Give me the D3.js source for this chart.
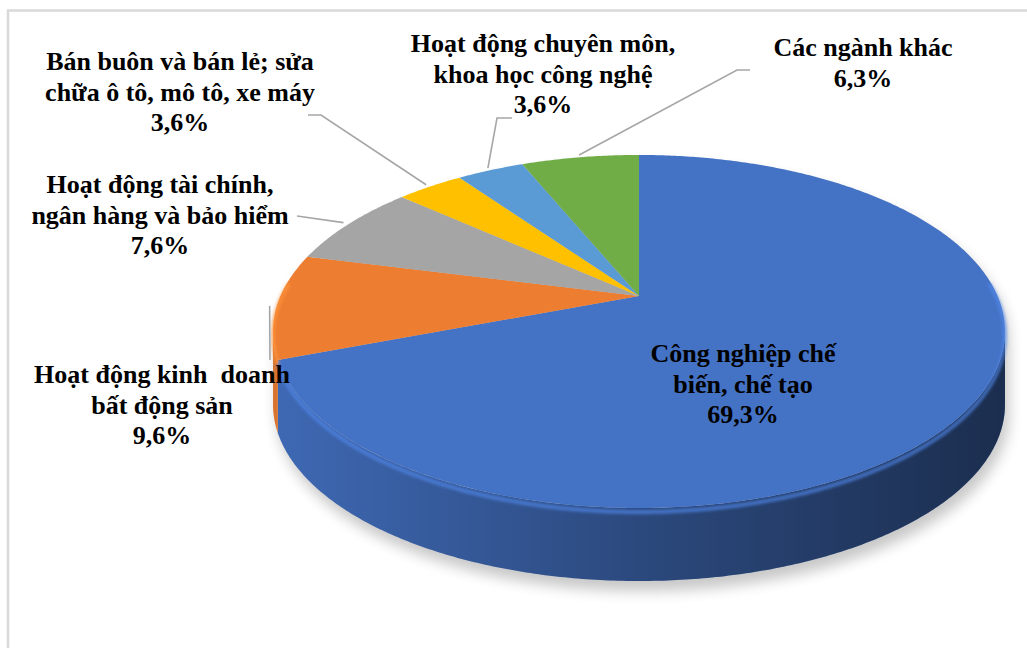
<!DOCTYPE html>
<html>
<head>
<meta charset="utf-8">
<script src="https://d3js.org/d3.v7.min.js"></script>
<style>
  body { margin: 0; background: #fff; }
</style>
</head>
<body>
<script>
// data
const categories = [
  "Công nghiệp chế biến, chế tạo",
  "Hoạt động kinh doanh bất động sản",
  "Hoạt động tài chính, ngân hàng và bảo hiểm",
  "Bán buôn và bán lẻ; sửa chữa ô tô, mô tô, xe máy",
  "Hoạt động chuyên môn, khoa học công nghệ",
  "Các ngành khác"
];
const values = [69.3, 9.6, 7.6, 3.6, 3.6, 6.3];
const labelLines = [
  ["Công nghiệp chế", "biến, chế tạo"],
  ["Hoạt động kinh  doanh", "bất động sản"],
  ["Hoạt động tài chính,", "ngân hàng và bảo hiểm"],
  ["Bán buôn và bán lẻ; sửa", "chữa ô tô, mô tô, xe máy"],
  ["Hoạt động chuyên môn,", "khoa học công nghệ"],
  ["Các ngành khác"]
];
const colors = ["#4472c4", "#ed7d31", "#a5a5a5", "#ffc000", "#5b9bd5", "#70ad47"];

// layout of labels (center x, first baseline) and leader elbows
const labelPos = [[743, 362], [162, 383], [160, 193], [180, 70], [543, 52], [863, 56]];
const leaders = [null, [[270, 360]], [[297, 216]], [[308, 115], [321, 115]], [[512, 118], [497, 118]], [[750, 70], [737, 70]]];

const width = 1027, height = 648;
const cx = 639, cy = 296, A = 358.5, B = 169.4, k = -0.201, depth = 73;

const svg = d3.select("body").append("svg")
  .attr("width", width).attr("height", height);

const defs = svg.append("defs");
const sh = defs.append("filter").attr("id", "shadow").attr("x", "-20%").attr("y", "-20%").attr("width", "140%").attr("height", "140%");
sh.append("feGaussianBlur").attr("stdDeviation", 7);
const bl = defs.append("filter").attr("id", "soft");
bl.append("feGaussianBlur").attr("stdDeviation", 1.6);

const grad = defs.append("linearGradient").attr("id", "sideShade")
  .attr("gradientUnits", "userSpaceOnUse").attr("x1", 272).attr("x2", 1006).attr("y1", 0).attr("y2", 0);
[[0, 0.08], [0.25, 0.22], [0.5, 0.36], [0.75, 0.48], [1, 0.6]].forEach(s =>
  grad.append("stop").attr("offset", s[0]).attr("stop-color", "#000").attr("stop-opacity", s[1]));

// chart frame
svg.append("rect").attr("x", 8).attr("y", 10.5).attr("width", 1100).attr("height", 700)
  .attr("fill", "none").attr("stroke", "#d9d9d9").attr("stroke-width", 2.5);

// perspective projection of a point on the unit disk (angle clockwise from top)
function proj(t, r = 1, dy = 0) {
  const u = r * Math.sin(t), v = -r * Math.cos(t);
  const d = 1 + k * v;
  return [cx + A * u / d, cy + B * v / d + dy];
}
function arcPts(a0, a1, r = 1, dy = 0) {
  const n = Math.max(2, Math.ceil(Math.abs(a1 - a0) / 0.01));
  return d3.range(n + 1).map(i => proj(a0 + (a1 - a0) * i / n, r, dy));
}
const line = d3.line();

const arcs = d3.pie().sort(null).value(d => d)(values);
const tR = Math.acos(k), tL = 2 * Math.PI - tR;

// shadow
const outline = arcPts(tL - 2 * Math.PI, tR).concat(arcPts(tR, tL, 1, depth));
svg.append("path").attr("d", line(outline) + "Z")
  .attr("transform", "translate(4,10)")
  .attr("fill", "#000").attr("opacity", 0.22).attr("filter", "url(#shadow)");

// sides
arcs.forEach((a, i) => {
  const s = Math.max(a.startAngle, tR), e = Math.min(a.endAngle, tL);
  if (e <= s) return;
  const pts = arcPts(s, e).concat(arcPts(e, s, 1, depth));
  svg.append("path").attr("d", line(pts) + "Z").attr("fill", colors[i]);
  svg.append("path").attr("d", line(pts) + "Z").attr("fill", "url(#sideShade)");
});

// top slices
arcs.forEach((a, i) => {
  const pts = [[cx, cy]].concat(arcPts(a.startAngle, a.endAngle));
  svg.append("path").attr("d", line(pts) + "Z").attr("fill", colors[i]);
});

// bevel highlight on front rim
arcs.forEach((a, i) => {
  const s = Math.max(a.startAngle, tR - 0.3), e = Math.min(a.endAngle, tL + 0.3);
  if (e <= s) return;
  const c = d3.color(colors[i]).brighter(0.5);
  svg.append("path").attr("d", line(arcPts(s, e, 1, 4)))
    .attr("fill", "none").attr("stroke", c).attr("stroke-width", 4)
    .attr("opacity", 0.7).attr("filter", "url(#soft)");
});

// leader lines
arcs.forEach((a, i) => {
  if (!leaders[i]) return;
  const mid = (a.startAngle + a.endAngle) / 2;
  const pts = leaders[i].concat([proj(mid, 1.02)]);
  svg.append("path").attr("d", line(pts))
    .attr("fill", "none").attr("stroke", "#a6a6a6").attr("stroke-width", 1.6);
});

// labels
const fmt = v => d3.format(".1f")(v).replace(".", ",") + "%";
arcs.forEach((a, i) => {
  const lines = labelLines[i].concat([fmt(values[i])]);
  const t = svg.append("text")
    .attr("text-anchor", "middle")
    .attr("font-family", "Liberation Serif")
    .attr("font-weight", "bold")
    .attr("font-size", 26)
    .attr("fill", "#000")
    .style("white-space", "pre");
  lines.forEach((l, j) => {
    t.append("tspan").attr("x", labelPos[i][0]).attr("y", labelPos[i][1] + j * 30.5).text(l);
  });
});
</script>
</body>
</html>
